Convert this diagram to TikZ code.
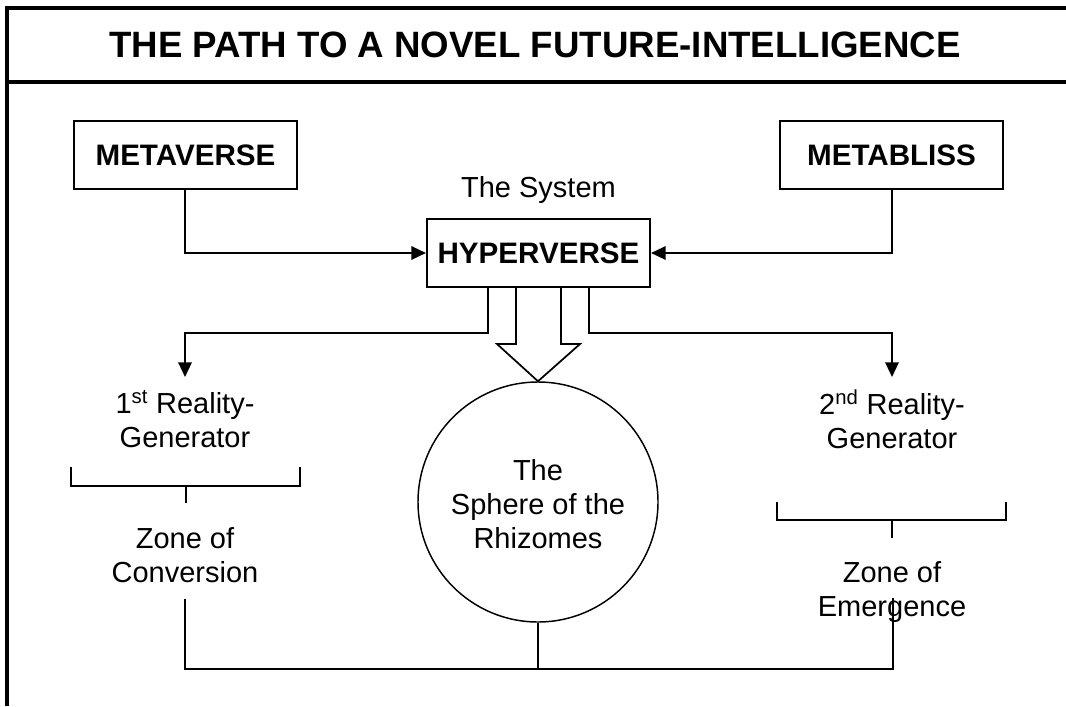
\documentclass[tikz,border=0pt]{standalone}
\usepackage{fontspec}
\setmainfont{Liberation Sans}
\usetikzlibrary{arrows.meta}
\begin{document}
\begin{tikzpicture}[x=0.75pt,y=-0.75pt,
  frameline/.style={line width=3pt},
  box/.style={draw, line width=1.5pt, minimum width=167.25pt, minimum height=51pt, inner sep=0pt,
    font=\fontsize{22.2}{26}\selectfont\bfseries},
  lbl/.style={align=center, inner sep=0pt, font=\fontsize{21.75}{25.5}\selectfont},
  conn/.style={line width=1.7pt},
  thinline/.style={line width=1.1pt},
  blockline/.style={line width=1.3pt, line join=miter},
  arr/.style={-{Triangle[length=11pt,width=10pt]}},
  circ/.style={draw, circle, line width=1.1pt, minimum size=180pt, inner sep=0pt}
]
\useasboundingbox (0,0) rectangle (1066,706);
% frame
\draw[frameline] (7,706) -- (7,8) -- (1066,8);
\draw[frameline] (7,82) -- (1066,82);
\node[anchor=base, inner sep=0pt, font=\fontsize{27.5}{33}\selectfont\bfseries] (title) at (535,58) {THE PATH TO A NOVEL FUTURE-INTELLIGENCE};

% boxes
\node[box] (meta) at (185.5,155) {METAVERSE};
\node[box] (bliss) at (891.5,155) {METABLISS};
\node[box] (hyper) at (538.5,253) {HYPERVERSE};
\node[lbl, anchor=base] (sys) at (538.5,197) {The System};

% labels
\node[lbl] (gen1) at (185,419.5) {1\textsuperscript{st} Reality-\\Generator};
\node[lbl] (gen2) at (892,419.5) {2\textsuperscript{nd} Reality-\\Generator};
\node[lbl] (zone1) at (185,555.5) {Zone of\\Conversion};
\node[lbl] (zone2) at (892,592) {Zone of\\Emergence};
\node[circ] (sphere) at (538,502) {};
\node[lbl] (sph) at (538,504) {The\\Sphere of the\\Rhizomes};

% input connectors
\draw[conn, arr] (meta.south -| 185,0) |- (hyper.west);
\draw[conn, arr] (bliss.south -| 892,0) |- (hyper.east);

% output connectors
\coordinate (t1) at (185,377);
\coordinate (t2) at (892,377);
\draw[conn, arr] (hyper.south -| 488,0) -- (488,333) -| (t1);
\draw[conn, arr] (hyper.south -| 589,0) -- (589,333) -| (t2);

% block arrow
\draw[blockline] (hyper.south -| 516,0) -- (516,344) -- (497,344) -- (sphere.north) -- (580,344) -- (561,344) -- (hyper.south -| 561,0);

% brackets
\draw[thinline] (71,467) -- (71,486) -- (300,486) -- (300,467);
\draw[thinline] (186,486) -- (186,503);
\draw[thinline] (777,502) -- (777,520) -- (1006,520) -- (1006,502);
\draw[thinline] (892,520) -- (892,538);

% bottom connectors
\coordinate (b1) at (185,599);
\coordinate (b2) at (893,598);
\draw[thinline] (b1) -- (185,669) -- (893,669) -- (b2);
\draw[thinline] (sphere.south) -- (sphere.south |- 0,669);
\end{tikzpicture}
\end{document}
